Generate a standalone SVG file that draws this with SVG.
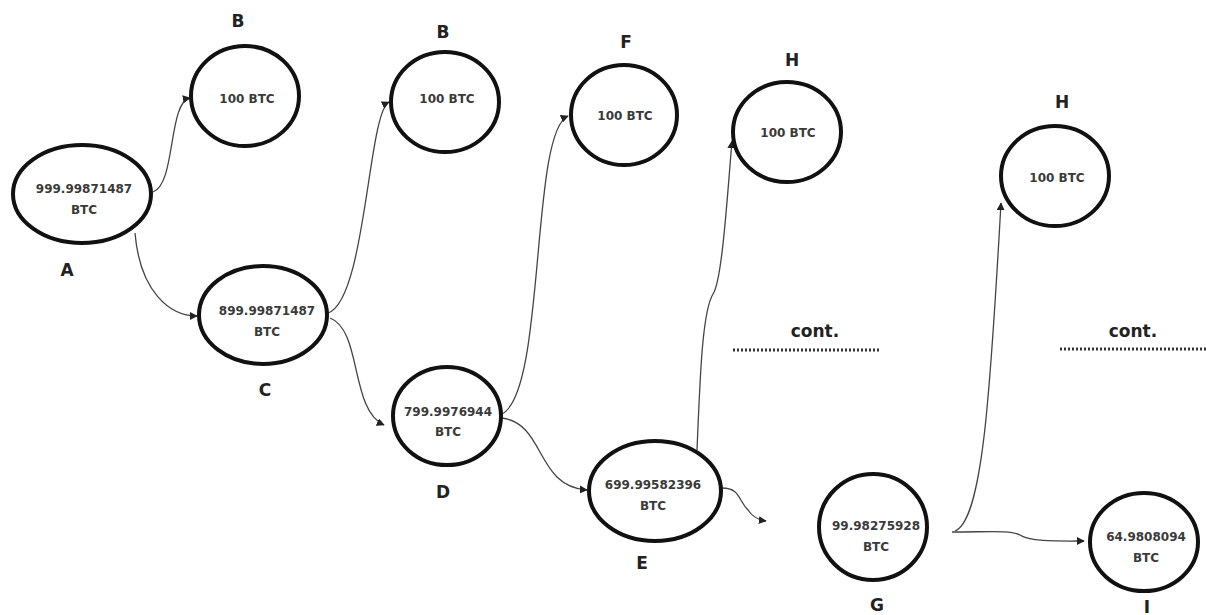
<svg xmlns="http://www.w3.org/2000/svg" width="1206" height="615" viewBox="0 0 1206 615">
  <style>
    .node { fill: #ffffff; stroke: #111111; stroke-width: 4; }
    .val { font-family: "DejaVu Sans", "Liberation Sans", sans-serif; font-weight: bold; font-size: 12px; fill: #3a3a3a; text-anchor: middle; }
    .lbl { font-family: "DejaVu Sans", "Liberation Sans", sans-serif; font-weight: bold; font-size: 17px; fill: #222222; text-anchor: middle; }
    .edge { fill: none; stroke: #444444; stroke-width: 1.3; marker-end: url(#arrow); }
    .dots { stroke: #333333; stroke-width: 3; stroke-dasharray: 2 2; }
  </style>
  <defs>
    <marker id="arrow" viewBox="0 0 10 10" refX="9" refY="5" markerWidth="8" markerHeight="8" markerUnits="userSpaceOnUse" orient="auto">
      <path d="M0,0 L10,5 L0,10 z" fill="#222222"/>
    </marker>
  </defs>
  <rect width="1206" height="615" fill="#ffffff"/>

  <!-- connectors -->
  <g id="connectors">
    <path class="edge" d="M153,192 C176,184 168,102 190,98"/>
    <path class="edge" d="M135,233 C140,292 170,316 197,316"/>
    <path class="edge" d="M328,313 C366,300 368,112 389,102"/>
    <path class="edge" d="M330,318 C362,330 350,410 384,425"/>
    <path class="edge" d="M502,414 C546,392 530,132 568,116"/>
    <path class="edge" d="M502,418 C546,424 535,486 587,490"/>
    <path class="edge" d="M697,450 C700,380 702,312 713,294 C722,281 727,200 732,141"/>
    <path class="edge" d="M722,488 C740,488 738,500 748,510 C752,516 758,520 766,521"/>
    <path class="edge" d="M955,531 C982,520 990,400 1001,203"/>
    <path class="edge" d="M952,532 C990,532 1010,530 1020,535 C1030,542 1060,541 1084,541"/>
  </g>

  <g id="node-A">
    <ellipse class="node" cx="82" cy="194" rx="69" ry="49"/>
    <text class="val" x="84" y="193">999.99871487</text>
    <text class="val" x="84" y="214">BTC</text>
    <text class="lbl" x="67" y="276">A</text>
  </g>
  <g id="node-B1">
    <ellipse class="node" cx="245" cy="96" rx="54" ry="50"/>
    <text class="val" x="247" y="103">100 BTC</text>
    <text class="lbl" x="238" y="27">B</text>
  </g>
  <g id="node-C">
    <ellipse class="node" cx="263" cy="315" rx="64" ry="49"/>
    <text class="val" x="267" y="315">899.99871487</text>
    <text class="val" x="267" y="336">BTC</text>
    <text class="lbl" x="265" y="396">C</text>
  </g>
  <g id="node-B2">
    <ellipse class="node" cx="445" cy="102" rx="54" ry="50"/>
    <text class="val" x="447" y="103">100 BTC</text>
    <text class="lbl" x="443" y="38">B</text>
  </g>
  <g id="node-D">
    <ellipse class="node" cx="447" cy="416" rx="54" ry="49"/>
    <text class="val" x="448" y="416">799.9976944</text>
    <text class="val" x="448" y="436">BTC</text>
    <text class="lbl" x="443" y="498">D</text>
  </g>
  <g id="node-F">
    <ellipse class="node" cx="624" cy="115" rx="53" ry="50"/>
    <text class="val" x="625" y="120">100 BTC</text>
    <text class="lbl" x="626" y="48">F</text>
  </g>
  <g id="node-H1">
    <ellipse class="node" cx="787" cy="132" rx="54" ry="50"/>
    <text class="val" x="788" y="137">100 BTC</text>
    <text class="lbl" x="792" y="66">H</text>
  </g>
  <g id="node-E">
    <ellipse class="node" cx="655" cy="491" rx="66" ry="50"/>
    <text class="val" x="653" y="489">699.99582396</text>
    <text class="val" x="653" y="510">BTC</text>
    <text class="lbl" x="642" y="569">E</text>
  </g>
  <g id="node-G">
    <ellipse class="node" cx="873" cy="527" rx="54" ry="53"/>
    <text class="val" x="876" y="530">99.98275928</text>
    <text class="val" x="876" y="551">BTC</text>
    <text class="lbl" x="877" y="611">G</text>
  </g>
  <g id="node-H2">
    <ellipse class="node" cx="1055" cy="176" rx="54" ry="50"/>
    <text class="val" x="1057" y="182">100 BTC</text>
    <text class="lbl" x="1062" y="108">H</text>
  </g>
  <g id="node-I">
    <ellipse class="node" cx="1144" cy="542" rx="54" ry="49"/>
    <text class="val" x="1146" y="541">64.9808094</text>
    <text class="val" x="1146" y="562">BTC</text>
    <text class="lbl" x="1147" y="613">I</text>
  </g>

  <g id="cont-1">
    <text class="lbl" x="815" y="337">cont.</text>
    <line class="dots" x1="733" y1="350" x2="880" y2="350"/>
  </g>
  <g id="cont-2">
    <text class="lbl" x="1133" y="337">cont.</text>
    <line class="dots" x1="1060" y1="349" x2="1206" y2="349"/>
  </g>
</svg>
